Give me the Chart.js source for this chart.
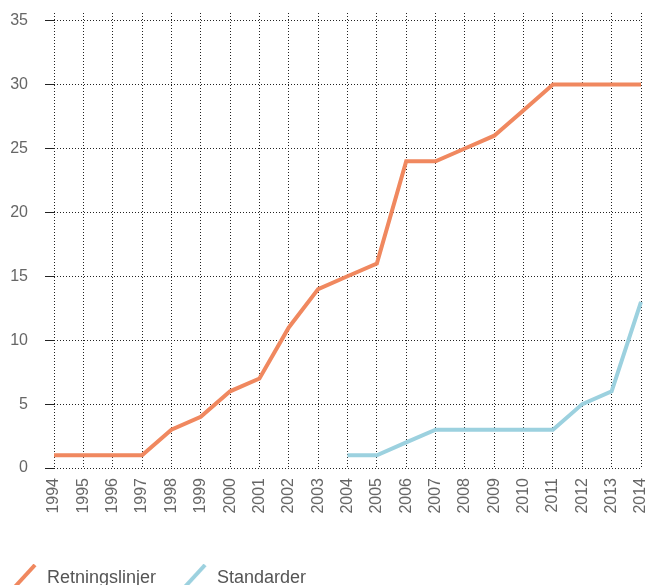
<!DOCTYPE html>
<html>
<head>
<meta charset="utf-8">
<script src="https://cdn.jsdelivr.net/npm/chart.js@4"></script>
<style>
  html, body { margin: 0; padding: 0; background: #fff; }
  #wrap { width: 645px; height: 585px; overflow: hidden; }
</style>
</head>
<body>
<div id="wrap"><canvas id="chart" width="645" height="585"></canvas></div>
<script>
// data
const years = ["1994", "1995", "1996", "1997", "1998", "1999", "2000", "2001", "2002", "2003",
  "2004", "2005", "2006", "2007", "2008", "2009", "2010", "2011", "2012", "2013", "2014"];
const retningslinjer = [1, 1, 1, 1, 3, 4, 6, 7, 11, 14, 15, 16, 24, 24, 25, 26, 28, 30, 30, 30, 30];
const standarder = [null, null, null, null, null, null, null, null, null, null,
  1, 1, 2, 3, 3, 3, 3, 3, 5, 6, 13];
const yTicks = [0, 5, 10, 15, 20, 25, 30, 35];

const ORANGE = "#F0885F";
const BLUE = "#9CD1DF";
const FONT = "'Liberation Sans', Arial, sans-serif";

// diagonal stroke used as legend symbol
function makeSwatch(color) {
  const c = document.createElement("canvas");
  c.width = 28;
  c.height = 28;
  const g = c.getContext("2d");
  g.strokeStyle = color;
  g.lineWidth = 4;
  g.beginPath();
  g.moveTo(2, 27);
  g.lineTo(26, 1);
  g.stroke();
  return c;
}

// drop the extra room chart.js keeps for the outer tick labels
function noLabelPadding(scale) {
  scale.paddingLeft = 0;
  scale.paddingRight = 0;
  scale.paddingTop = 0;
  scale.paddingBottom = 0;
}

const ctx = document.getElementById("chart").getContext("2d");

new Chart(ctx, {
  type: "line",
  data: {
    labels: years,
    datasets: [
      {
        label: "Retningslinjer",
        data: retningslinjer,
        borderColor: ORANGE,
        backgroundColor: ORANGE,
        borderWidth: 4,
        pointRadius: 0,
        pointStyle: makeSwatch(ORANGE),
        tension: 0,
      },
      {
        label: "Standarder",
        data: standarder,
        borderColor: BLUE,
        backgroundColor: BLUE,
        borderWidth: 4,
        pointRadius: 0,
        pointStyle: makeSwatch(BLUE),
        tension: 0,
      },
    ],
  },
  options: {
    responsive: false,
    animation: false,
    devicePixelRatio: 1,
    // negative left padding moves the legend start; y axis width compensates
    layout: { padding: { left: -14, right: 4, top: 13, bottom: -12 } },
    plugins: {
      tooltip: { enabled: false },
      legend: {
        position: "bottom",
        align: "start",
        labels: {
          usePointStyle: true,
          pointStyleWidth: 30,
          padding: 22,
          color: "#555",
          font: { family: FONT, size: 18 },
        },
      },
    },
    scales: {
      x: {
        offset: false,
        border: { display: false, dash: [1, 2] },
        grid: {
          color: "#222",
          lineWidth: 1,
          drawTicks: false,
        },
        ticks: {
          color: "#666",
          minRotation: 90,
          maxRotation: 90,
          autoSkip: false,
          padding: 10,
          font: { family: FONT, size: 16 },
        },
        afterFit(scale) {
          scale.height = 79;
          noLabelPadding(scale);
        },
      },
      y: {
        min: 0,
        max: 35.6,
        border: { display: false, dash: [1, 2] },
        grid: {
          color: (c) => (yTicks.includes(c.tick.value) ? "#222" : "transparent"),
          lineWidth: 1,
          tickLength: 9,
        },
        afterBuildTicks(scale) {
          scale.ticks = yTicks.map((v) => ({ value: v }));
        },
        ticks: {
          color: "#666",
          padding: 17,
          font: { family: FONT, size: 16 },
        },
        afterFit(scale) {
          scale.width = 68;
          noLabelPadding(scale);
        },
      },
    },
  },
});
</script>
</body>
</html>
